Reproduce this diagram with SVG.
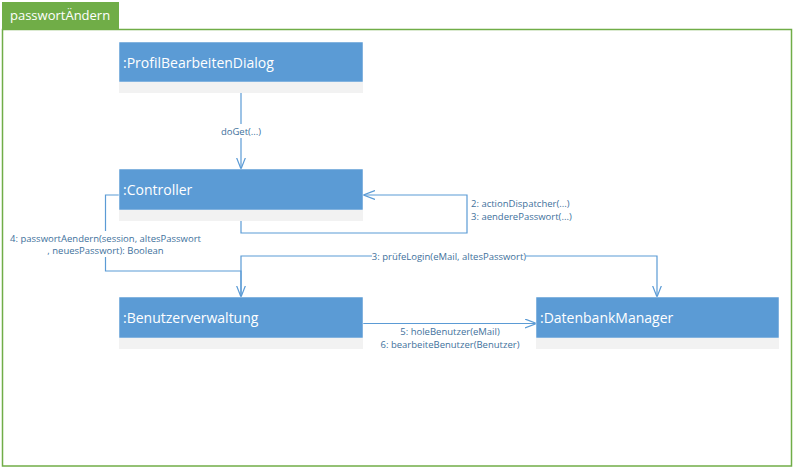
<svg xmlns="http://www.w3.org/2000/svg" width="793" height="468" viewBox="0 0 793 468">
  <defs>
    <style>
      .frame { fill: none; stroke: #70AD47; stroke-width: 1.5; }
      .tab { fill: #70AD47; }
      .tabtext { fill: #ffffff; font-family: "Open Sans", "Noto Sans", sans-serif; font-size: 13px; }
      .head { fill: #5B9BD5; stroke: #ffffff; stroke-width: 0.5; }
      .strip { fill: #F2F2F2; }
      .name { fill: #ffffff; font-family: "Open Sans", "Noto Sans", sans-serif; font-size: 14px; }
      .conn { fill: none; stroke: #5B9BD5; stroke-width: 1.2; }
      .lbl { fill: #41719C; font-family: "Open Sans", "Noto Sans", sans-serif; font-size: 9.5px; }
      .lblbg { fill: #ffffff; }
    </style>
    <marker id="open" viewBox="0 0 12 10" refX="11.5" refY="5" markerWidth="12" markerHeight="10" markerUnits="userSpaceOnUse" orient="auto">
      <path d="M0,0.5 L11.5,5 L0,9.5" fill="none" stroke="#5B9BD5" stroke-width="1.2"/>
    </marker>
  </defs>

  <!-- frame with title tab -->
  <g id="frame">
    <rect class="frame" x="2.5" y="29.5" width="789" height="436.5"/>
    <rect class="tab" x="2" y="2" width="117" height="27.5"/>
    <text class="tabtext" x="10" y="20">passwortÄndern</text>
  </g>

  <!-- connectors -->
  <g id="connectors">
    <!-- 1: doGet -->
    <path class="conn" d="M241,93 V169" marker-end="url(#open)"/>
    <rect class="lblbg" x="218" y="124" width="46" height="14"/>
    <text class="lbl" x="241" y="134.5" text-anchor="middle">doGet(...)</text>

    <!-- 2/3: self call on controller -->
    <path class="conn" d="M241,221 V233 H467 V195 H363.5" marker-end="url(#open)"/>
    <text class="lbl" x="471" y="206.5">2: actionDispatcher(...)</text>
    <text class="lbl" x="471" y="219.5">3: aenderePasswort(...)</text>

    <!-- 4: passwortAendern -->
    <path class="conn" d="M119,195 H105.5 V271 H241 V297" marker-end="url(#open)"/>
    <rect class="lblbg" x="12" y="231" width="188" height="26"/>
    <text class="lbl" x="105.5" y="241.5" text-anchor="middle">4: passwortAendern(session, altesPasswort</text>
    <text class="lbl" x="105.5" y="253.5" text-anchor="middle">, neuesPasswort): Boolean</text>

    <!-- 3: pruefeLogin -->
    <path class="conn" d="M241,297 V256 H657 V297" marker-end="url(#open)"/>
    <rect class="lblbg" x="372" y="250" width="154" height="12"/>
    <text class="lbl" x="449" y="259.5" text-anchor="middle">3: prüfeLogin(eMail, altesPasswort)</text>

    <!-- 5/6: Benutzerverwaltung to DatenbankManager -->
    <path class="conn" d="M363,323.5 H536.5" marker-end="url(#open)"/>
    <text class="lbl" x="450" y="335" text-anchor="middle">5: holeBenutzer(eMail)</text>
    <text class="lbl" x="450" y="348" text-anchor="middle">6: bearbeiteBenutzer(Benutzer)</text>
  </g>

  <g id="profilBearbeitenDialog">
    <rect class="head" x="119" y="42" width="244" height="40"/>
    <rect class="strip" x="119" y="82" width="244" height="11"/>
    <text class="name" x="123" y="67.5">:ProfilBearbeitenDialog</text>
  </g>

  <g id="controller">
    <rect class="head" x="119" y="169" width="244" height="41"/>
    <rect class="strip" x="119" y="210" width="244" height="11"/>
    <text class="name" x="123" y="194.5">:Controller</text>
  </g>

  <g id="benutzerverwaltung">
    <rect class="head" x="119" y="297" width="244" height="41"/>
    <rect class="strip" x="119" y="338" width="244" height="11"/>
    <text class="name" x="123" y="323">:Benutzerverwaltung</text>
  </g>

  <g id="datenbankManager">
    <rect class="head" x="536" y="297" width="243" height="41"/>
    <rect class="strip" x="536" y="338" width="243" height="11"/>
    <text class="name" x="540" y="323">:DatenbankManager</text>
  </g>
</svg>
